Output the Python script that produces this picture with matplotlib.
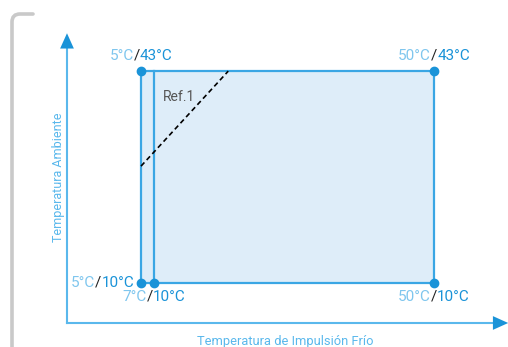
import matplotlib
matplotlib.use("Agg")
import matplotlib.pyplot as plt
from matplotlib.offsetbox import TextArea, HPacker, AnnotationBbox
from matplotlib.path import Path
from matplotlib.patches import PathPatch, Rectangle

plt.rcParams['font.family'] = ['Roboto', 'DejaVu Sans']

# operating envelope (impulsion temperature vs ambient temperature)
x_min, x_inner, x_max = 5, 7, 50
y_min, y_max = 10, 43
ref_x = [5, 18.4]
ref_y = [28.2, 43]
corner_pts = [(5, 43), (50, 43), (5, 10), (7, 10), (50, 10)]
corner_labels = [("5°C", "43°C"), ("50°C", "43°C"), ("5°C", "10°C"),
                 ("7°C", "10°C"), ("50°C", "10°C")]

ax_x0, ax_y0 = -6.37, 3.77
ax_x1, ax_y1 = 61.4, 48.9

c_light = '#7fc6ee'
c_blue = '#1a93d8'
c_line = '#3aa6e4'
c_axis = '#5ab8ec'
c_fill = '#deedf9'

fig = plt.figure(figsize=(5.08, 3.47), dpi=100)
ax = fig.add_axes([0, 0, 1, 1])
ax.set_xlim(-16.66, 61.37)
ax.set_ylim(0.03, 54.08)
ax.axis('off')

# gray bracket at the left
verts = [(12, 0), (12, 325), (12, 333), (20, 333), (33, 333)]
codes = [Path.MOVETO, Path.LINETO, Path.CURVE3, Path.CURVE3, Path.LINETO]
bracket = Path([(x / 508, y / 347) for x, y in verts], codes)
fig.patches.append(PathPatch(bracket, transform=fig.transFigure, fill=False,
                             edgecolor='#c9c9c9', lw=2.6, capstyle='round'))

# axes with arrows
ax.plot([ax_x0, ax_x1 - 2], [ax_y0, ax_y0], color=c_axis, lw=1.5)
ax.plot([ax_x0, ax_x0], [ax_y0, ax_y1 - 2], color=c_axis, lw=1.5)
astyle = '-|>,head_length=1.0,head_width=0.45'
ax.annotate('', xy=(ax_x1, ax_y0), xytext=(ax_x1 - 2.5, ax_y0),
            arrowprops=dict(arrowstyle=astyle, mutation_scale=11, color=c_blue,
                            lw=0, shrinkA=0, shrinkB=0))
ax.annotate('', xy=(ax_x0, ax_y1), xytext=(ax_x0, ax_y1 - 2.5),
            arrowprops=dict(arrowstyle=astyle, mutation_scale=11, color=c_blue,
                            lw=0, shrinkA=0, shrinkB=0))

# envelope
ax.add_patch(Rectangle((x_min, y_min), x_max - x_min, y_max - y_min,
                       facecolor=c_fill, edgecolor=c_line, lw=1.6, zorder=2))
ax.plot([x_inner, x_inner], [y_min, y_max], color=c_line, lw=1.6, zorder=3)
ax.plot(ref_x, ref_y, color='black', lw=1.2, ls=(0, (3, 2)), zorder=3)
ax.text(8.4, 39.0, 'Ref.1', color='#555555', fontsize=10, ha='left', va='center', zorder=4)

px, py = zip(*corner_pts)
ax.plot(px, py, 'o', color=c_blue, ms=6, zorder=5)

# corner labels: offsets in points and box alignment
placements = [((0, 6), (0.5, 0)), ((0, 6), (0.5, 0)), ((-5, 0), (1, 0.5)),
              ((0, -5), (0.5, 1)), ((0, -5), (0.5, 1))]
for (x, y), (a, b), (off, align) in zip(corner_pts, corner_labels, placements):
    parts = [TextArea(a, textprops=dict(color=c_light, fontsize=11)),
             TextArea('/', textprops=dict(color='#222222', fontsize=11)),
             TextArea(b, textprops=dict(color=c_blue, fontsize=11))]
    box = HPacker(children=parts, sep=0, pad=0, align='baseline')
    ab = AnnotationBbox(box, (x, y), xybox=off, boxcoords='offset points',
                        box_alignment=align, frameon=False, pad=0)
    ax.add_artist(ab)

ax.text(-7.7, 26.4, 'Temperatura Ambiente', rotation=90, color=c_axis, fontsize=9,
        ha='center', va='center')
ax.text(27.2, 1.9, 'Temperatura de Impulsión Frío', color=c_axis, fontsize=9.3,
        ha='center', va='top')

fig.savefig('out.png', dpi=100)
